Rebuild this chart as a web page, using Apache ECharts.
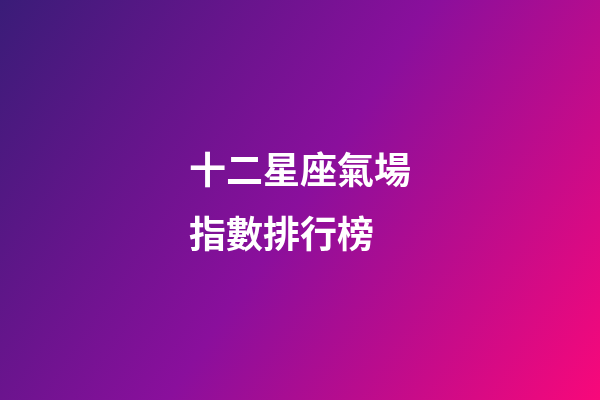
<!DOCTYPE html>
<html>
<head>
<meta charset="utf-8">
<script src="https://cdn.jsdelivr.net/npm/echarts@6/dist/echarts.min.js"></script>
<style>html,body{margin:0;padding:0;}#c{width:600px;height:400px;}</style>
</head>
<body>
<div id="c"></div>
<script>
var titleLines = ['十二星座氣場', '指數排行榜'];
var gradientColors = ['#3a1c78', '#8a0f9c', '#f8087a'];
var gradientStops = [0, 0.5, 1];

var chart = echarts.init(document.getElementById('c'), null, {renderer: 'canvas'});
chart.setOption({
  backgroundColor: {
    type: 'linear', x: 0, y: 0, x2: 1, y2: 1,
    colorStops: gradientStops.map(function (s, i) { return {offset: s, color: gradientColors[i]}; })
  },
  graphic: titleLines.map(function (t, i) {
    return {
      type: 'text',
      left: 189,
      top: 151 + i * 64,
      style: {
        text: t,
        fill: '#ffffff',
        font: 'bold 37px "Noto Sans CJK TC", "Noto Sans CJK SC", sans-serif'
      }
    };
  })
});
</script>
</body>
</html>
